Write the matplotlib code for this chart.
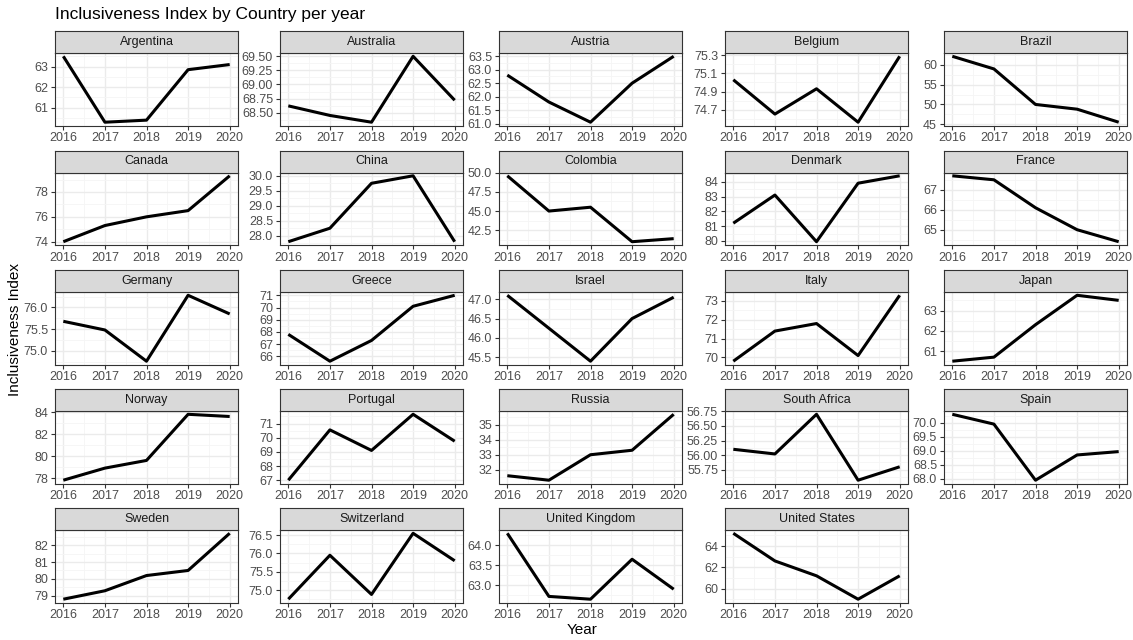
import numpy as np
import matplotlib
matplotlib.use("Agg")
import matplotlib.pyplot as plt
from matplotlib.ticker import FixedLocator

plt.rcParams["font.family"] = ["Liberation Sans", "DejaVu Sans"]

years = [2016, 2017, 2018, 2019, 2020]

countries = ["Argentina", "Australia", "Austria", "Belgium", "Brazil",
             "Canada", "China", "Colombia", "Denmark", "France",
             "Germany", "Greece", "Israel", "Italy", "Japan",
             "Norway", "Portugal", "Russia", "South Africa", "Spain",
             "Sweden", "Switzerland", "United Kingdom", "United States"]

argentina = [63.5, 60.3, 60.4, 62.85, 63.1]
australia = [68.62, 68.45, 68.33, 69.5, 68.72]
austria = [62.8, 61.8, 61.05, 62.5, 63.5]
belgium = [75.03, 74.65, 74.93, 74.56, 75.29]
brazil = [62.2, 59.0, 50.0, 48.8, 45.5]
canada = [74.0, 75.3, 76.0, 76.5, 79.3]
china = [27.8, 28.25, 29.75, 30.0, 27.8]
colombia = [49.6, 45.0, 45.5, 41.0, 41.4]
denmark = [81.2, 83.1, 79.95, 83.9, 84.4]
france = [67.7, 67.5, 66.1, 65.0, 64.4]
germany = [75.68, 75.48, 74.76, 76.28, 75.85]
greece = [67.8, 65.6, 67.3, 70.1, 71.0]
israel = [47.1, 46.25, 45.4, 46.5, 47.05]
italy = [69.8, 71.4, 71.8, 70.1, 73.3]
japan = [60.5, 60.7, 62.3, 63.75, 63.5]
norway = [77.8, 78.9, 79.6, 83.8, 83.6]
portugal = [67.0, 70.55, 69.1, 71.65, 69.75]
russia = [31.6, 31.3, 33.0, 33.3, 35.7]
south_africa = [56.1, 56.02, 56.7, 55.57, 55.8]
spain = [70.3, 69.95, 67.95, 68.85, 68.97]
sweden = [78.8, 79.3, 80.2, 80.5, 82.7]
switzerland = [74.75, 75.95, 74.88, 76.55, 75.8]
united_kingdom = [64.3, 62.72, 62.65, 63.65, 62.9]
united_states = [65.2, 62.6, 61.2, 59.0, 61.2]

series = [argentina, australia, austria, belgium, brazil,
          canada, china, colombia, denmark, france,
          germany, greece, israel, italy, japan,
          norway, portugal, russia, south_africa, spain,
          sweden, switzerland, united_kingdom, united_states]

# y-axis break labels for each panel
y_ticks = [
    ["61", "62", "63"],
    ["68.50", "68.75", "69.00", "69.25", "69.50"],
    ["61.0", "61.5", "62.0", "62.5", "63.0", "63.5"],
    ["74.7", "74.9", "75.1", "75.3"],
    ["45", "50", "55", "60"],
    ["74", "76", "78"],
    ["28.0", "28.5", "29.0", "29.5", "30.0"],
    ["42.5", "45.0", "47.5", "50.0"],
    ["80", "81", "82", "83", "84"],
    ["65", "66", "67"],
    ["75.0", "75.5", "76.0"],
    ["66", "67", "68", "69", "70", "71"],
    ["45.5", "46.0", "46.5", "47.0"],
    ["70", "71", "72", "73"],
    ["61", "62", "63"],
    ["78", "80", "82", "84"],
    ["67", "68", "69", "70", "71"],
    ["32", "33", "34", "35"],
    ["55.75", "56.00", "56.25", "56.50", "56.75"],
    ["68.0", "68.5", "69.0", "69.5", "70.0"],
    ["79", "80", "81", "82"],
    ["75.0", "75.5", "76.0", "76.5"],
    ["63.0", "63.5", "64.0"],
    ["60", "62", "64"],
]

W, H = 1133, 640
fig = plt.figure(figsize=(W / 100, H / 100), dpi=100)

col_left = [55, 280, 499, 725, 944]
panel_w = 183
row_top = [31, 150.5, 270, 389, 508]
strip_h = 22
panel_h = 72.5

grid_major = "#ebebeb"
grid_minor = "#f5f5f5"
border = "#333333"

for i, (name, vals, labels) in enumerate(zip(countries, series, y_ticks)):
    r, c = divmod(i, 5)
    x0 = col_left[c]
    top = row_top[r] + strip_h
    ax = fig.add_axes([x0 / W, 1 - (top + panel_h) / H, panel_w / W, panel_h / H])

    lo, hi = min(vals), max(vals)
    pad = (hi - lo) * 0.05
    ax.set_ylim(lo - pad, hi + pad)
    ax.set_xlim(2016 - 0.2, 2020 + 0.2)

    ticks = [float(t) for t in labels]
    ax.yaxis.set_major_locator(FixedLocator(ticks))
    ax.set_yticklabels(labels)
    step = ticks[1] - ticks[0]
    minors = [t + step / 2 for t in [ticks[0] - step] + ticks]
    ax.yaxis.set_minor_locator(FixedLocator(minors))
    ax.set_xticks(years)
    ax.set_xticklabels([str(y) for y in years])
    ax.xaxis.set_minor_locator(FixedLocator([y + 0.5 for y in years[:-1]]))

    ax.grid(True, which="major", color=grid_major, lw=1.0)
    ax.grid(True, which="minor", color=grid_minor, lw=0.6)
    ax.set_axisbelow(True)
    for s in ax.spines.values():
        s.set_color(border)
        s.set_linewidth(0.8)
    ax.tick_params(which="major", length=3, width=0.8, color=border,
                   labelsize=9, labelcolor="#4d4d4d", pad=2)
    ax.tick_params(which="minor", length=0)

    ax.plot(years, vals, color="black", lw=2.2, solid_capstyle="butt")

    # facet strip
    sax = fig.add_axes([x0 / W, 1 - top / H, panel_w / W, strip_h / H])
    sax.set_xticks([])
    sax.set_yticks([])
    sax.set_facecolor("#d9d9d9")
    for s in sax.spines.values():
        s.set_color(border)
        s.set_linewidth(0.8)
    sax.text(0.5, 0.5, name, ha="center", va="center", fontsize=9,
             color="#1a1a1a", transform=sax.transAxes)

fig.text(55 / W, 1 - 15 / H, "Inclusiveness Index by Country per year",
         fontsize=12.5, ha="left", va="center", color="black")
fig.text(582 / W, 1 - 630 / H, "Year", fontsize=11, ha="center", va="center")
fig.text(15 / W, 1 - 330 / H, "Inclusiveness Index", fontsize=11,
         ha="center", va="center", rotation=90)

fig.savefig("out.png", dpi=100, facecolor="white")
